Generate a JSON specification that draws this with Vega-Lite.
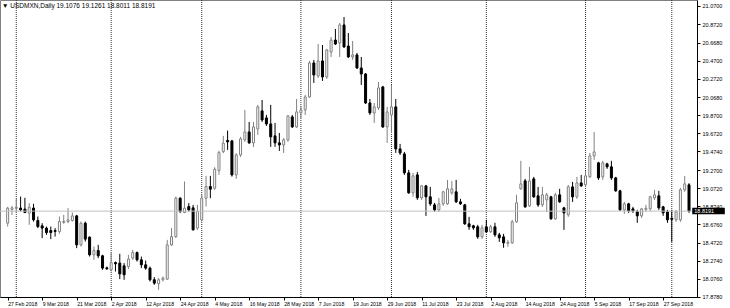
{
  "$schema": "https://vega.github.io/schema/vega-lite/v6.json",
  "width": 697,
  "height": 297,
  "autosize": {"type": "none"},
  "padding": {"left": 0, "top": 0, "right": 33, "bottom": 11},
  "background": "white",
  "config": {
    "view": {"stroke": "#808080", "strokeWidth": 1},
    "font": "Liberation Sans",
    "axis": {
      "title": null,
      "labelOverlap": false,
      "labelFlush": false,
      "labelBound": false,
      "labelAlign": "left",
      "labelFontSize": 5.5,
      "labelColor": "#000000",
      "tickSize": 3,
      "tickColor": "#000000",
      "domainColor": "#000000",
      "grid": false
    }
  },
  "title": {
    "text": "▼ USDMXN,Daily  19.1076 19.1261 18.8011 18.8191",
    "anchor": "start",
    "frame": "group",
    "offset": -9.5,
    "dx": 2,
    "fontSize": 6.5,
    "fontWeight": "normal",
    "color": "#000000"
  },
  "datasets": {
    "months": [{"i": 2}, {"i": 24}, {"i": 45}, {"i": 68}, {"i": 89}, {"i": 111}, {"i": 134}, {"i": 154}],
    "bars": [
      {"i":0,"o":18.687,"h":18.866,"l":18.650,"c":18.852},
      {"i":1,"o":18.839,"h":18.877,"l":18.778,"c":18.855},
      {"i":2,"o":18.850,"h":18.954,"l":18.799,"c":18.861},
      {"i":3,"o":18.852,"h":18.979,"l":18.815,"c":18.833},
      {"i":4,"o":18.841,"h":18.965,"l":18.797,"c":18.804},
      {"i":5,"o":18.797,"h":18.907,"l":18.669,"c":18.863},
      {"i":6,"o":18.852,"h":18.899,"l":18.705,"c":18.724},
      {"i":7,"o":18.716,"h":18.760,"l":18.633,"c":18.650},
      {"i":8,"o":18.658,"h":18.687,"l":18.523,"c":18.633},
      {"i":9,"o":18.633,"h":18.650,"l":18.559,"c":18.584},
      {"i":10,"o":18.606,"h":18.650,"l":18.512,"c":18.584},
      {"i":11,"o":18.606,"h":18.633,"l":18.540,"c":18.597},
      {"i":12,"o":18.595,"h":18.760,"l":18.570,"c":18.705},
      {"i":13,"o":18.696,"h":18.778,"l":18.680,"c":18.707},
      {"i":14,"o":18.705,"h":18.852,"l":18.687,"c":18.724},
      {"i":15,"o":18.716,"h":18.804,"l":18.705,"c":18.767},
      {"i":16,"o":18.767,"h":18.778,"l":18.413,"c":18.449},
      {"i":17,"o":18.449,"h":18.705,"l":18.431,"c":18.687},
      {"i":18,"o":18.687,"h":18.705,"l":18.486,"c":18.512},
      {"i":19,"o":18.534,"h":18.540,"l":18.321,"c":18.340},
      {"i":20,"o":18.340,"h":18.431,"l":18.285,"c":18.387},
      {"i":21,"o":18.387,"h":18.449,"l":18.304,"c":18.329},
      {"i":22,"o":18.329,"h":18.340,"l":18.175,"c":18.194},
      {"i":23,"o":18.197,"h":18.211,"l":18.175,"c":18.186},
      {"i":24,"o":18.175,"h":18.365,"l":18.157,"c":18.255},
      {"i":25,"o":18.255,"h":18.266,"l":18.157,"c":18.241},
      {"i":26,"o":18.249,"h":18.351,"l":18.073,"c":18.131},
      {"i":27,"o":18.219,"h":18.249,"l":18.066,"c":18.120},
      {"i":28,"o":18.211,"h":18.340,"l":18.183,"c":18.293},
      {"i":29,"o":18.304,"h":18.395,"l":18.285,"c":18.365},
      {"i":30,"o":18.365,"h":18.376,"l":18.266,"c":18.285},
      {"i":31,"o":18.285,"h":18.321,"l":18.194,"c":18.230},
      {"i":32,"o":18.230,"h":18.277,"l":18.175,"c":18.194},
      {"i":33,"o":18.194,"h":18.211,"l":18.047,"c":18.066},
      {"i":34,"o":18.066,"h":18.095,"l":18.011,"c":18.029},
      {"i":35,"o":18.022,"h":18.084,"l":17.956,"c":18.066},
      {"i":36,"o":18.066,"h":18.102,"l":18.047,"c":18.084},
      {"i":37,"o":18.073,"h":18.504,"l":18.066,"c":18.449},
      {"i":38,"o":18.449,"h":18.633,"l":18.438,"c":18.540},
      {"i":39,"o":18.540,"h":18.979,"l":18.523,"c":18.961},
      {"i":40,"o":18.961,"h":18.972,"l":18.797,"c":18.815},
      {"i":41,"o":18.804,"h":19.144,"l":18.797,"c":18.852},
      {"i":42,"o":18.869,"h":18.907,"l":18.815,"c":18.833},
      {"i":43,"o":18.855,"h":18.888,"l":18.606,"c":18.614},
      {"i":44,"o":18.633,"h":18.888,"l":18.614,"c":18.815},
      {"i":45,"o":18.724,"h":18.998,"l":18.705,"c":18.961},
      {"i":46,"o":18.961,"h":19.206,"l":18.869,"c":19.089},
      {"i":47,"o":19.089,"h":19.206,"l":18.961,"c":19.060},
      {"i":48,"o":19.071,"h":19.301,"l":19.053,"c":19.279},
      {"i":49,"o":19.264,"h":19.483,"l":19.217,"c":19.461},
      {"i":50,"o":19.472,"h":19.645,"l":19.455,"c":19.565},
      {"i":51,"o":19.595,"h":19.703,"l":19.491,"c":19.579},
      {"i":52,"o":19.590,"h":19.601,"l":19.198,"c":19.217},
      {"i":53,"o":19.217,"h":19.455,"l":19.173,"c":19.436},
      {"i":54,"o":19.436,"h":19.634,"l":19.414,"c":19.612},
      {"i":55,"o":19.601,"h":19.930,"l":19.579,"c":19.688},
      {"i":56,"o":19.688,"h":19.798,"l":19.557,"c":19.568},
      {"i":57,"o":19.568,"h":19.798,"l":19.524,"c":19.743},
      {"i":58,"o":19.721,"h":19.985,"l":19.656,"c":19.963},
      {"i":59,"o":19.919,"h":20.039,"l":19.798,"c":19.820},
      {"i":60,"o":19.842,"h":19.875,"l":19.754,"c":19.776},
      {"i":61,"o":19.776,"h":19.985,"l":19.524,"c":19.634},
      {"i":62,"o":19.645,"h":19.787,"l":19.524,"c":19.568},
      {"i":63,"o":19.568,"h":19.677,"l":19.480,"c":19.546},
      {"i":64,"o":19.546,"h":19.623,"l":19.458,"c":19.601},
      {"i":65,"o":19.601,"h":19.875,"l":19.579,"c":19.864},
      {"i":66,"o":19.853,"h":19.875,"l":19.732,"c":19.743},
      {"i":67,"o":19.743,"h":20.050,"l":19.732,"c":19.908},
      {"i":68,"o":19.897,"h":19.974,"l":19.842,"c":19.930},
      {"i":69,"o":19.930,"h":20.094,"l":19.875,"c":20.072},
      {"i":70,"o":20.072,"h":20.467,"l":20.061,"c":20.445},
      {"i":71,"o":20.445,"h":20.478,"l":20.226,"c":20.313},
      {"i":72,"o":20.303,"h":20.653,"l":20.281,"c":20.467},
      {"i":73,"o":20.467,"h":20.642,"l":20.248,"c":20.292},
      {"i":74,"o":20.292,"h":20.599,"l":20.270,"c":20.588},
      {"i":75,"o":20.566,"h":20.730,"l":20.511,"c":20.697},
      {"i":76,"o":20.697,"h":20.818,"l":20.642,"c":20.653},
      {"i":77,"o":20.664,"h":20.884,"l":20.511,"c":20.862},
      {"i":78,"o":20.862,"h":20.949,"l":20.610,"c":20.621},
      {"i":79,"o":20.631,"h":20.774,"l":20.500,"c":20.511},
      {"i":80,"o":20.511,"h":20.686,"l":20.478,"c":20.533},
      {"i":81,"o":20.533,"h":20.555,"l":20.379,"c":20.390},
      {"i":82,"o":20.390,"h":20.511,"l":20.204,"c":20.324},
      {"i":83,"o":20.324,"h":20.335,"l":19.995,"c":20.006},
      {"i":84,"o":20.006,"h":20.050,"l":19.875,"c":19.897},
      {"i":85,"o":19.897,"h":20.006,"l":19.787,"c":19.963},
      {"i":86,"o":19.952,"h":20.237,"l":19.930,"c":20.171},
      {"i":87,"o":20.182,"h":20.193,"l":19.732,"c":19.743},
      {"i":88,"o":19.743,"h":19.963,"l":19.568,"c":19.908},
      {"i":89,"o":19.875,"h":20.204,"l":19.677,"c":19.963},
      {"i":90,"o":19.963,"h":20.050,"l":19.458,"c":19.502},
      {"i":91,"o":19.502,"h":19.557,"l":19.436,"c":19.458},
      {"i":92,"o":19.447,"h":19.469,"l":19.217,"c":19.239},
      {"i":93,"o":19.239,"h":19.272,"l":19.009,"c":19.020},
      {"i":94,"o":19.020,"h":19.239,"l":18.976,"c":19.206},
      {"i":95,"o":19.217,"h":19.250,"l":18.943,"c":18.965},
      {"i":96,"o":18.965,"h":19.107,"l":18.943,"c":19.096},
      {"i":97,"o":19.096,"h":19.107,"l":18.767,"c":18.976},
      {"i":98,"o":18.976,"h":19.085,"l":18.877,"c":18.899},
      {"i":99,"o":18.888,"h":18.910,"l":18.811,"c":18.833},
      {"i":100,"o":18.833,"h":18.965,"l":18.811,"c":18.899},
      {"i":101,"o":18.899,"h":19.042,"l":18.877,"c":19.031},
      {"i":102,"o":18.899,"h":19.162,"l":18.888,"c":19.064},
      {"i":103,"o":19.020,"h":19.151,"l":18.998,"c":19.064},
      {"i":104,"o":19.031,"h":19.162,"l":18.910,"c":18.921},
      {"i":105,"o":18.921,"h":18.954,"l":18.888,"c":18.899},
      {"i":106,"o":18.888,"h":18.899,"l":18.669,"c":18.680},
      {"i":107,"o":18.680,"h":18.756,"l":18.614,"c":18.647},
      {"i":108,"o":18.658,"h":18.669,"l":18.614,"c":18.636},
      {"i":109,"o":18.647,"h":18.669,"l":18.515,"c":18.537},
      {"i":110,"o":18.537,"h":18.669,"l":18.515,"c":18.636},
      {"i":111,"o":18.647,"h":18.724,"l":18.581,"c":18.592},
      {"i":112,"o":18.592,"h":18.669,"l":18.581,"c":18.647},
      {"i":113,"o":18.647,"h":18.691,"l":18.537,"c":18.559},
      {"i":114,"o":18.559,"h":18.581,"l":18.482,"c":18.526},
      {"i":115,"o":18.537,"h":18.570,"l":18.417,"c":18.471},
      {"i":116,"o":18.466,"h":18.504,"l":18.428,"c":18.477},
      {"i":117,"o":18.471,"h":18.724,"l":18.460,"c":18.702},
      {"i":118,"o":18.702,"h":18.998,"l":18.691,"c":18.910},
      {"i":119,"o":19.064,"h":19.371,"l":19.053,"c":19.118},
      {"i":120,"o":19.151,"h":19.173,"l":18.855,"c":18.866},
      {"i":121,"o":18.877,"h":19.305,"l":18.866,"c":19.151},
      {"i":122,"o":19.173,"h":19.195,"l":18.965,"c":18.976},
      {"i":123,"o":18.987,"h":19.085,"l":18.866,"c":18.888},
      {"i":124,"o":18.888,"h":19.085,"l":18.866,"c":18.998},
      {"i":125,"o":18.943,"h":19.020,"l":18.811,"c":18.998},
      {"i":126,"o":18.976,"h":18.987,"l":18.724,"c":18.735},
      {"i":127,"o":18.735,"h":19.020,"l":18.724,"c":18.998},
      {"i":128,"o":18.998,"h":19.064,"l":18.910,"c":18.921},
      {"i":129,"o":18.855,"h":18.866,"l":18.614,"c":18.800},
      {"i":130,"o":18.778,"h":19.107,"l":18.756,"c":19.085},
      {"i":131,"o":19.085,"h":19.140,"l":18.921,"c":18.976},
      {"i":132,"o":18.976,"h":19.195,"l":18.954,"c":19.129},
      {"i":133,"o":19.129,"h":19.217,"l":19.085,"c":19.096},
      {"i":134,"o":19.107,"h":19.261,"l":19.085,"c":19.206},
      {"i":135,"o":19.195,"h":19.458,"l":19.184,"c":19.425},
      {"i":136,"o":19.425,"h":19.688,"l":19.382,"c":19.469},
      {"i":137,"o":19.349,"h":19.360,"l":19.162,"c":19.184},
      {"i":138,"o":19.195,"h":19.371,"l":19.162,"c":19.349},
      {"i":139,"o":19.338,"h":19.349,"l":19.283,"c":19.305},
      {"i":140,"o":19.305,"h":19.371,"l":19.162,"c":19.184},
      {"i":141,"o":19.184,"h":19.195,"l":19.031,"c":19.042},
      {"i":142,"o":19.042,"h":19.053,"l":18.822,"c":18.833},
      {"i":143,"o":18.833,"h":18.921,"l":18.789,"c":18.899},
      {"i":144,"o":18.899,"h":18.910,"l":18.800,"c":18.822},
      {"i":145,"o":18.844,"h":18.866,"l":18.800,"c":18.822},
      {"i":146,"o":18.811,"h":18.833,"l":18.691,"c":18.767},
      {"i":147,"o":18.767,"h":18.855,"l":18.745,"c":18.844},
      {"i":148,"o":18.839,"h":18.888,"l":18.811,"c":18.850},
      {"i":149,"o":18.844,"h":18.987,"l":18.822,"c":18.976},
      {"i":150,"o":18.965,"h":19.053,"l":18.943,"c":18.998},
      {"i":151,"o":18.987,"h":19.042,"l":18.833,"c":18.855},
      {"i":152,"o":18.866,"h":18.877,"l":18.767,"c":18.800},
      {"i":153,"o":18.811,"h":18.833,"l":18.691,"c":18.724},
      {"i":154,"o":18.740,"h":18.833,"l":18.482,"c":18.729},
      {"i":155,"o":18.724,"h":18.833,"l":18.702,"c":18.811},
      {"i":156,"o":18.724,"h":19.074,"l":18.702,"c":19.053},
      {"i":157,"o":19.053,"h":19.206,"l":19.031,"c":19.118},
      {"i":158,"o":19.1076,"h":19.1261,"l":18.8011,"c":18.8191}
    ]
  },
  "layer": [
    {
      "data": {"name": "months"},
      "mark": {"type": "rule", "color": "#333333", "strokeWidth": 1, "strokeDash": [1, 1]},
      "encoding": {
        "x": {
          "field": "i",
          "type": "quantitative",
          "scale": {"domain": [-0.617, 158.69], "nice": false, "zero": false},
          "axis": {
            "values": [0, 8, 16, 24, 32, 40, 48, 56, 64, 72, 80, 88, 96, 104, 112, 120, 128, 136, 144, 152],
            "tickCount": 200,
            "labelExpr": "['27 Feb 2018','9 Mar 2018','21 Mar 2018','2 Apr 2018','12 Apr 2018','24 Apr 2018','4 May 2018','16 May 2018','28 May 2018','7 Jun 2018','19 Jun 2018','29 Jun 2018','11 Jul 2018','23 Jul 2018','2 Aug 2018','14 Aug 2018','24 Aug 2018','5 Sep 2018','17 Sep 2018','27 Sep 2018'][round(datum.value/8)]",
            "labelFontSize": 5.2,
            "labelPadding": 1,
            "labelOverlap": false
          }
        }
      }
    },
    {
      "data": {"name": "bars"},
      "mark": {"type": "rule", "strokeWidth": 1},
      "encoding": {
        "x": {"field": "i", "type": "quantitative"},
        "y": {
          "field": "l",
          "type": "quantitative",
          "scale": {"domain": [17.877, 21.1358], "nice": false, "zero": false},
          "axis": {
            "orient": "right",
            "values": [17.878, 18.076, 18.274, 18.472, 18.676, 18.874, 19.072, 19.27, 19.474, 19.672, 19.87, 20.068, 20.272, 20.47, 20.668, 20.872, 21.07],
            "tickCount": 200,
            "format": ".4f",
            "labelPadding": 2,
            "labelOverlap": false
          }
        },
        "y2": {"field": "h"},
        "stroke": {"condition": {"test": "datum.c < datum.o", "value": "#000000"}, "value": "#808080"}
      }
    },
    {
      "data": {"name": "bars"},
      "mark": {"type": "bar", "width": 2, "strokeWidth": 1},
      "encoding": {
        "x": {"field": "i", "type": "quantitative"},
        "y": {"field": "o", "type": "quantitative"},
        "y2": {"field": "c"},
        "fill": {"condition": {"test": "datum.c < datum.o", "value": "#000000"}, "value": "#ffffff"},
        "stroke": {"condition": {"test": "datum.c < datum.o", "value": "#000000"}, "value": "#808080"}
      }
    },
    {
      "data": {"values": [{"p": 18.8191}]},
      "mark": {"type": "rule", "color": "#c0c0c0", "strokeWidth": 1},
      "encoding": {"y": {"field": "p", "type": "quantitative"}}
    },
    {
      "data": {"values": [{"p": 18.8191}]},
      "mark": {"type": "rect", "color": "#000000", "clip": false},
      "encoding": {
        "x": {"datum": 158.75},
        "x2": {"datum": 166.3},
        "y": {"datum": 18.855},
        "y2": {"datum": 18.784}
      }
    },
    {
      "data": {"values": [{"p": 18.8191}]},
      "mark": {"type": "text", "color": "#ffffff", "align": "left", "baseline": "middle", "fontSize": 5.5, "dx": 2},
      "encoding": {
        "x": {"datum": 158.75},
        "y": {"field": "p", "type": "quantitative"},
        "text": {"field": "p", "type": "quantitative", "format": ".4f"}
      }
    }
  ]
}
